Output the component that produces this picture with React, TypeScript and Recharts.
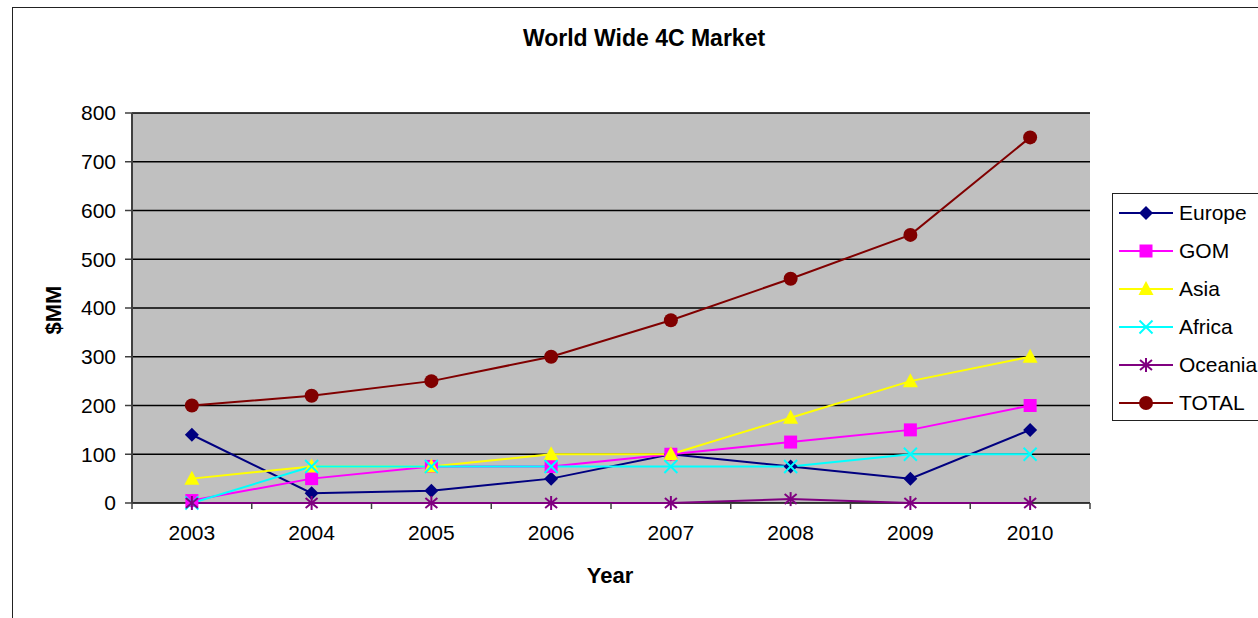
import { LineChart, Line, XAxis, YAxis, CartesianGrid } from 'recharts'

// ── Data ──────────────────────────────────────────────────────────────────────

const YEARS   = ['2003', '2004', '2005', '2006', '2007', '2008', '2009', '2010']
const EUROPE  = [140, 20, 25, 50, 100, 75, 50, 150]
const GOM     = [5, 50, 75, 75, 100, 125, 150, 200]
const ASIA    = [50, 75, 75, 100, 100, 175, 250, 300]
const AFRICA  = [0, 75, 75, 75, 75, 75, 100, 100]
const OCEANIA = [0, 0, 0, 0, 0, 8, 0, 0]
const TOTAL   = [200, 220, 250, 300, 375, 460, 550, 750]
const Y_TICKS = [0, 100, 200, 300, 400, 500, 600, 700, 800]

type Shape = 'diamond' | 'square' | 'triangle' | 'x' | 'star' | 'circle'

const SERIES: { key: string; color: string; shape: Shape; values: number[] }[] = [
  { key: 'Europe',  color: '#000080', shape: 'diamond',  values: EUROPE },
  { key: 'GOM',     color: '#ff00ff', shape: 'square',   values: GOM },
  { key: 'Asia',    color: '#ffff00', shape: 'triangle', values: ASIA },
  { key: 'Africa',  color: '#00ffff', shape: 'x',        values: AFRICA },
  { key: 'Oceania', color: '#800080', shape: 'star',     values: OCEANIA },
  { key: 'TOTAL',   color: '#800000', shape: 'circle',   values: TOTAL },
]

const rows = YEARS.map((year, i) => {
  const r: Record<string, string | number> = { year }
  SERIES.forEach(s => { r[s.key] = s.values[i] })
  return r
})

const FONT = '"Liberation Sans", Arial, sans-serif'

// ── Markers ───────────────────────────────────────────────────────────────────

function Mark({ shape, cx, cy, color }: { shape: Shape; cx: number; cy: number; color: string }) {
  switch (shape) {
    case 'diamond':
      return <polygon points={`${cx},${cy - 7} ${cx + 7},${cy} ${cx},${cy + 7} ${cx - 7},${cy}`} fill={color} />
    case 'square':
      return <rect x={cx - 6.5} y={cy - 6.5} width={13} height={13} fill={color} />
    case 'triangle':
      return <polygon points={`${cx},${cy - 8} ${cx + 7.5},${cy + 6} ${cx - 7.5},${cy + 6}`} fill={color} />
    case 'x':
      return (
        <g stroke={color} strokeWidth={2}>
          <line x1={cx - 6.5} y1={cy - 6.5} x2={cx + 6.5} y2={cy + 6.5} />
          <line x1={cx - 6.5} y1={cy + 6.5} x2={cx + 6.5} y2={cy - 6.5} />
        </g>
      )
    case 'star':
      return (
        <g stroke={color} strokeWidth={2}>
          <line x1={cx} y1={cy - 7} x2={cx} y2={cy + 7} />
          <line x1={cx - 6} y1={cy - 5} x2={cx + 6} y2={cy + 5} />
          <line x1={cx - 6} y1={cy + 5} x2={cx + 6} y2={cy - 5} />
        </g>
      )
    default:
      return <circle cx={cx} cy={cy} r={7} fill={color} />
  }
}

// ticks sit on category boundaries, labels at centres
function YearTick(props: any) {
  const { x, y, payload, index, visibleTicksCount } = props
  const half = payload?.offset || 59.9
  const last = index === visibleTicksCount - 1
  return (
    <g>
      <line x1={x - half} x2={x - half} y1={y} y2={y + 6} stroke="#404040" strokeWidth={1.5} />
      {last && <line x1={x + half} x2={x + half} y1={y} y2={y + 6} stroke="#404040" strokeWidth={1.5} />}
      <text x={x} y={y + 37} textAnchor="middle" fontSize={21} fill="#000" fontFamily={FONT}>
        {payload.value}
      </text>
    </g>
  )
}

function LegendBox() {
  return (
    <div style={{
      position: 'absolute', left: 1112, top: 193, width: 160, height: 228,
      border: '1.5px solid #222', background: '#fff', boxSizing: 'border-box',
    }}>
      {SERIES.map(s => (
        <div key={s.key} style={{ display: 'flex', alignItems: 'center', height: 38 }}>
          <svg width={66} height={20} style={{ flex: 'none' }}>
            <line x1={6} x2={60} y1={10} y2={10} stroke={s.color} strokeWidth={2} />
            <Mark shape={s.shape} cx={33} cy={10} color={s.color} />
          </svg>
          <span style={{ fontSize: 21, fontFamily: FONT, color: '#000' }}>{s.key}</span>
        </div>
      ))}
    </div>
  )
}

export default function App() {
  return (
    <div style={{ position: 'absolute', left: 0, top: 0, width: 1258, height: 618, overflow: 'hidden', background: '#fff', fontFamily: FONT }}>
      <div style={{ position: 'absolute', left: 12, top: 7, width: 1300, height: 700, border: '1.5px solid #222' }} />

      <div style={{ position: 'absolute', left: 0, width: 1288, top: 25, textAlign: 'center', fontSize: 23, fontWeight: 700 }}>
        World Wide 4C Market
      </div>
      <div style={{
        position: 'absolute', left: 54, top: 310, fontSize: 22, fontWeight: 700,
        transform: 'translate(-50%, -50%) rotate(-90deg)', whiteSpace: 'nowrap',
      }}>
        $MM
      </div>
      <div style={{ position: 'absolute', left: 610, top: 576, transform: 'translate(-50%, -50%)', fontSize: 22, fontWeight: 700 }}>
        Year
      </div>

      <div style={{ position: 'absolute', left: 0, top: 0 }}>
        <LineChart width={1258} height={618} data={rows} margin={{ top: 113, right: 168, bottom: 85, left: 0 }}>
          <CartesianGrid vertical={false} stroke="#000" strokeWidth={1.5} fill="#c0c0c0" fillOpacity={1} />
          <XAxis dataKey="year" scale="band" interval={0} height={30} tickSize={0} tickMargin={0}
            tickLine={false} axisLine={false} tick={<YearTick />} />
          <XAxis xAxisId="top" dataKey="year" scale="band" orientation="top" height={0} tick={false} tickLine={false}
            axisLine={{ stroke: '#808080', strokeWidth: 2.5 }} />
          <YAxis width={132} domain={[0, 800]} ticks={Y_TICKS} interval={0} tickSize={7} tickMargin={9}
            tick={{ fontSize: 21, fill: '#000', fontFamily: FONT }}
            tickLine={{ stroke: '#404040', strokeWidth: 1.5 }} axisLine={{ stroke: '#404040', strokeWidth: 2 }} />
          <YAxis yAxisId="right" orientation="right" width={0} domain={[0, 800]} tick={false} tickLine={false}
            axisLine={{ stroke: '#808080', strokeWidth: 2.5 }} />
          {SERIES.map(s => (
            <Line key={s.key} dataKey={s.key} stroke={s.color} strokeWidth={2} isAnimationActive={false}
              dot={(p: any) => <Mark key={`${s.key}-${p.index}`} shape={s.shape} cx={p.cx} cy={p.cy} color={s.color} />}
              activeDot={false} />
          ))}
        </LineChart>
      </div>

      <LegendBox />
    </div>
  )
}
